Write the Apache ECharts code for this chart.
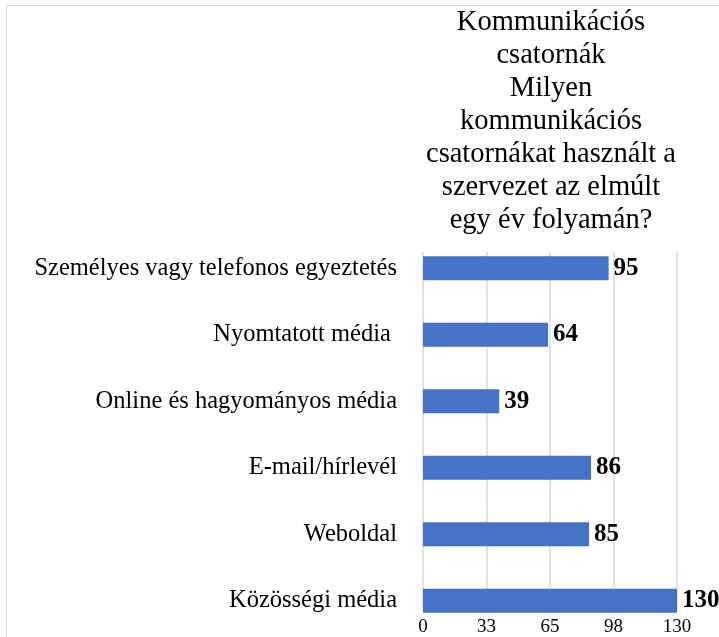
<!DOCTYPE html>
<html>
<head>
<meta charset="utf-8">
<script src="https://cdn.jsdelivr.net/npm/echarts@6/dist/echarts.min.js"></script>
<style>
  html, body { margin: 0; padding: 0; background: #fff; }
  .frame {
    position: absolute;
    left: 6px;
    top: 5px;
    width: 800px;
    height: 700px;
    border-left: 1px solid #d9d9d9;
    border-top: 1px solid #d9d9d9;
  }
  #chart { position: absolute; left: 0; top: 0; width: 719px; height: 637px; }
</style>
</head>
<body>
<div class="frame"></div>
<div id="chart"></div>
<script>
const titleLines = [
  'Kommunikációs',
  'csatornák',
  'Milyen',
  'kommunikációs',
  'csatornákat használt a',
  'szervezet az elmúlt',
  'egy év folyamán?'
]
const categories = [
  'Személyes vagy telefonos egyeztetés',
  'Nyomtatott média ',
  'Online és hagyományos média',
  'E-mail/hírlevél',
  'Weboldal',
  'Közösségi média'
]
const values = [95, 64, 39, 86, 85, 130]
const xMin = 0
const xMax = 130
const xStep = 32.5

const serif = "'Liberation Serif', 'Times New Roman', serif"
const chart = echarts.init(document.getElementById('chart'))

chart.setOption({
  animation: false,
  title: {
    text: titleLines.join('\n'),
    left: 551,
    textAlign: 'center',
    top: 6,
    padding: 0,
    textStyle: {
      fontFamily: serif,
      fontSize: 28.5,
      fontWeight: 'normal',
      color: '#000',
      lineHeight: 33,
    },
  },
  grid: [
    // bars + category labels
    { left: 423, right: 42, top: 235, bottom: 3 },
    // gridlines + value labels
    { left: 423, right: 42, top: 252, bottom: 25 },
  ],
  xAxis: [
    {
      gridIndex: 0,
      type: 'value',
      min: xMin,
      max: xMax,
      show: false,
    },
    {
      gridIndex: 1,
      type: 'value',
      min: xMin,
      max: xMax,
      interval: xStep,
      axisLine: { show: false },
      axisTick: { show: false },
      splitLine: {
        show: true,
        lineStyle: { color: '#d9d9d9', width: 1.5 },
      },
      axisLabel: {
        margin: 10,
        fontFamily: serif,
        fontSize: 19,
        color: '#000',
        formatter: (v) => Math.round(v),
      },
    },
  ],
  yAxis: [
    {
      gridIndex: 0,
      type: 'category',
      data: categories,
      inverse: true,
      axisLine: { show: false },
      axisTick: { show: false },
      splitLine: { show: false },
      axisLabel: {
        margin: 26,
        fontFamily: serif,
        fontSize: 24.5,
        color: '#000',
      },
    },
    {
      gridIndex: 1,
      type: 'value',
      show: false,
    },
  ],
  series: [
    {
      type: 'bar',
      xAxisIndex: 0,
      yAxisIndex: 0,
      data: values,
      barWidth: 24,
      itemStyle: { color: '#4472C4' },
      label: {
        show: true,
        position: 'right',
        distance: 5,
        fontFamily: serif,
        fontSize: 25,
        fontWeight: 'bold',
        color: '#000',
      },
      z: 3,
    },
  ],
})
</script>
</body>
</html>
